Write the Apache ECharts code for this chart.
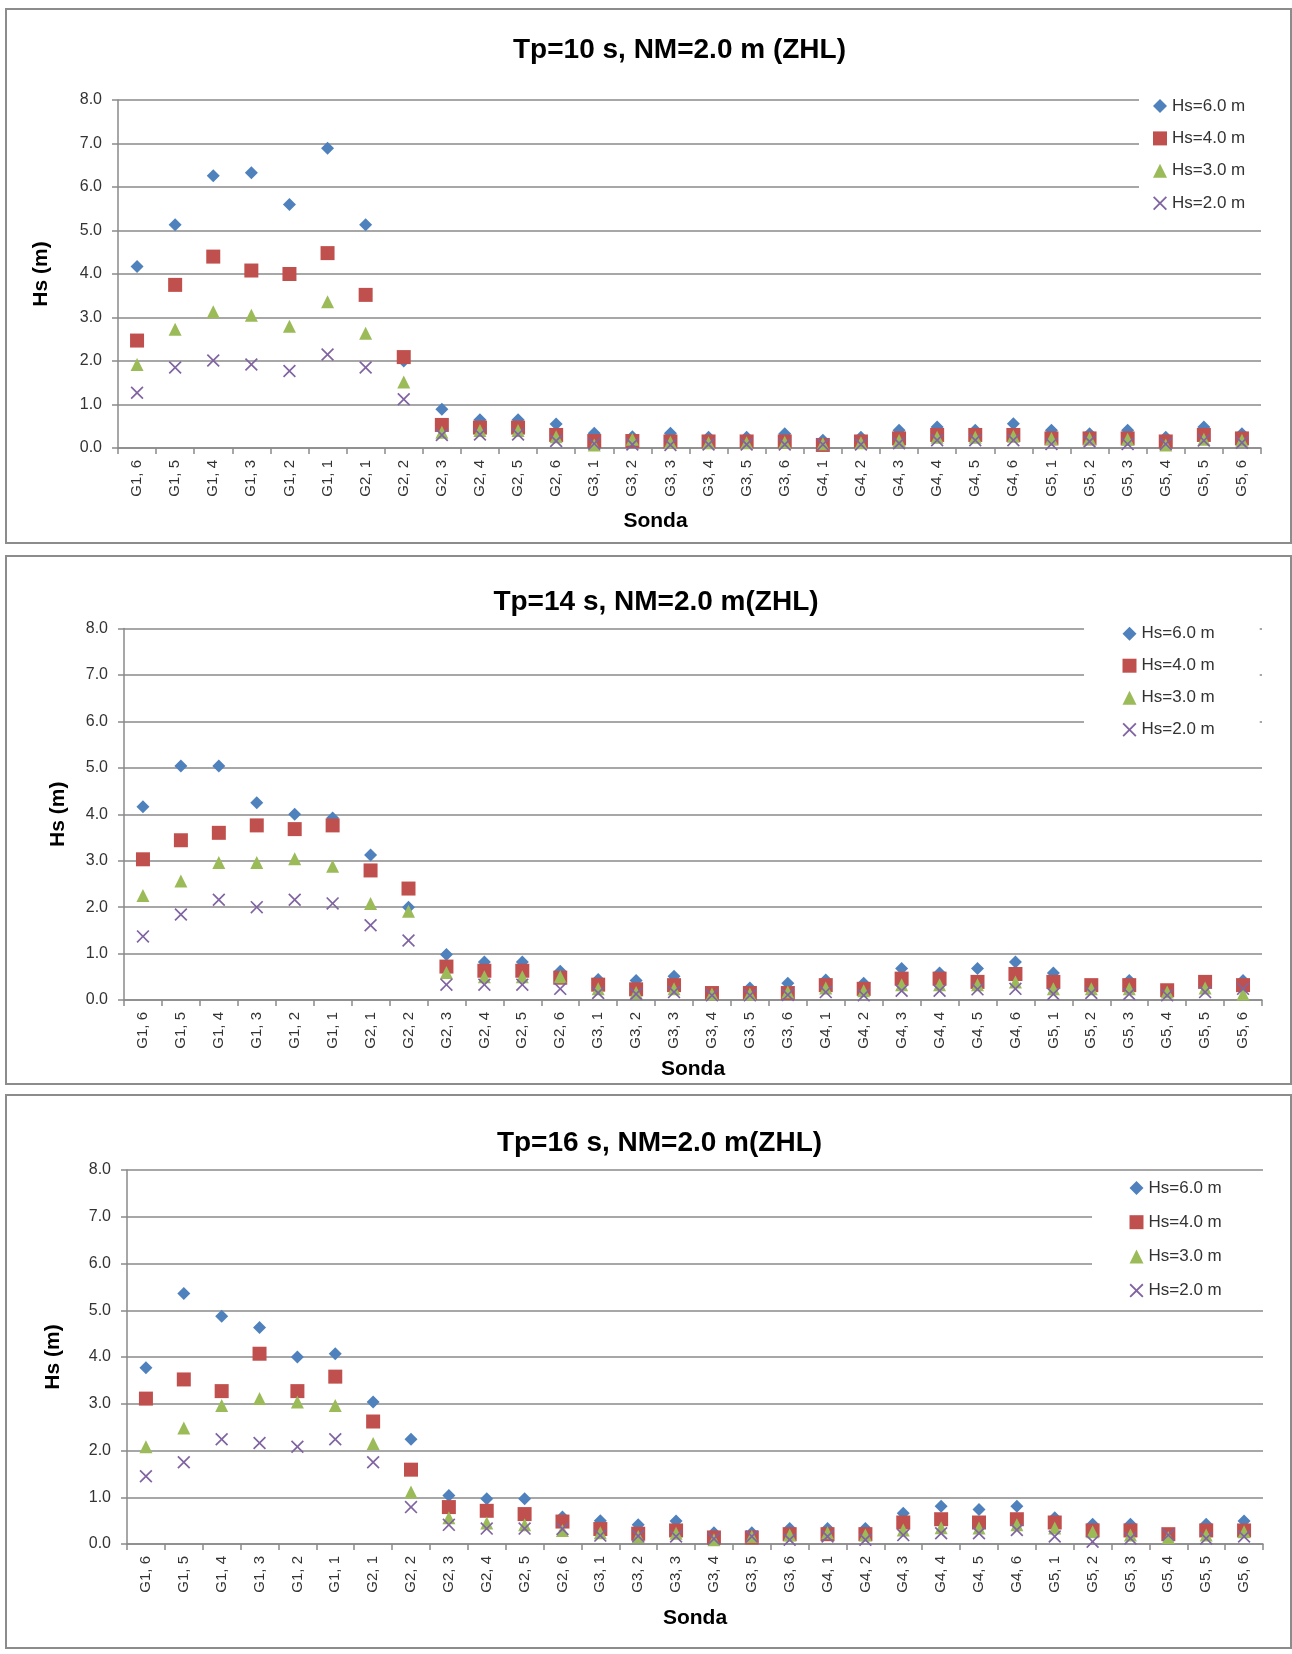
<!DOCTYPE html>
<html>
<head>
<meta charset="utf-8">
<script src="https://cdn.jsdelivr.net/npm/echarts@6/dist/echarts.min.js"></script>
<style>
  html,body{margin:0;padding:0;background:#fff;}
  #chart{width:1292px;height:1654px;}
</style>
</head>
<body>
<div id="chart"></div>
<script>
/* ---------- data ---------- */
const sondas = ['G1, 6','G1, 5','G1, 4','G1, 3','G1, 2','G1, 1','G2, 1','G2, 2','G2, 3','G2, 4',
                'G2, 5','G2, 6','G3, 1','G3, 2','G3, 3','G3, 4','G3, 5','G3, 6','G4, 1','G4, 2',
                'G4, 3','G4, 4','G4, 5','G4, 6','G5, 1','G5, 2','G5, 3','G5, 4','G5, 5','G5, 6'];
const seriesNames = ['Hs=6.0 m','Hs=4.0 m','Hs=3.0 m','Hs=2.0 m'];
const titles = ['Tp=10 s, NM=2.0 m (ZHL)','Tp=14 s, NM=2.0 m(ZHL)','Tp=16 s, NM=2.0 m(ZHL)'];
const yMax = 8, yStep = 1;

// Tp = 10 s
const tp10Hs6 = [4.17,5.13,6.26,6.33,5.60,6.89,5.13,2.00,0.89,0.65,0.65,0.55,0.34,0.26,0.34,0.25,0.25,0.33,0.18,0.25,0.41,0.48,0.41,0.56,0.41,0.33,0.41,0.25,0.48,0.33];
const tp10Hs4 = [2.47,3.75,4.40,4.08,4.00,4.48,3.52,2.09,0.53,0.47,0.47,0.30,0.16,0.16,0.15,0.15,0.15,0.15,0.07,0.15,0.22,0.30,0.30,0.30,0.22,0.22,0.22,0.15,0.30,0.22];
const tp10Hs3 = [1.92,2.73,3.13,3.05,2.80,3.36,2.64,1.52,0.36,0.40,0.40,0.26,0.07,0.20,0.13,0.12,0.12,0.13,0.10,0.12,0.17,0.25,0.25,0.27,0.22,0.22,0.20,0.07,0.20,0.18];
const tp10Hs2 = [1.27,1.85,2.01,1.92,1.77,2.15,1.85,1.12,0.30,0.31,0.31,0.16,0.10,0.08,0.07,0.08,0.08,0.08,0.08,0.08,0.11,0.18,0.18,0.18,0.09,0.15,0.09,0.09,0.17,0.12];

// Tp = 14 s
const tp14Hs6 = [4.16,5.04,5.04,4.25,4.00,3.92,3.12,2.00,0.98,0.82,0.82,0.62,0.44,0.42,0.51,0.15,0.26,0.36,0.43,0.36,0.68,0.58,0.68,0.82,0.58,0.30,0.42,0.20,0.38,0.42];
const tp14Hs4 = [3.03,3.44,3.60,3.76,3.68,3.76,2.79,2.40,0.72,0.63,0.63,0.48,0.33,0.23,0.32,0.15,0.15,0.15,0.32,0.24,0.46,0.46,0.39,0.56,0.39,0.32,0.32,0.21,0.39,0.32];
const tp14Hs3 = [2.25,2.56,2.96,2.96,3.04,2.88,2.08,1.91,0.59,0.50,0.50,0.50,0.24,0.16,0.24,0.13,0.13,0.17,0.26,0.20,0.33,0.33,0.33,0.39,0.24,0.24,0.24,0.17,0.26,0.13];
const tp14Hs2 = [1.37,1.84,2.16,2.00,2.16,2.08,1.61,1.28,0.33,0.33,0.33,0.24,0.15,0.13,0.17,0.10,0.10,0.11,0.17,0.10,0.20,0.20,0.23,0.24,0.13,0.15,0.13,0.10,0.17,0.24];

// Tp = 16 s
const tp16Hs6 = [3.77,5.36,4.87,4.63,4.00,4.07,3.04,2.24,1.04,0.97,0.97,0.58,0.50,0.41,0.49,0.24,0.24,0.33,0.33,0.33,0.66,0.81,0.74,0.81,0.56,0.42,0.42,0.20,0.42,0.49];
const tp16Hs4 = [3.11,3.52,3.27,4.07,3.27,3.58,2.62,1.59,0.79,0.71,0.64,0.48,0.32,0.22,0.29,0.14,0.14,0.21,0.21,0.21,0.46,0.53,0.46,0.53,0.46,0.29,0.29,0.21,0.29,0.29];
const tp16Hs3 = [2.08,2.48,2.96,3.11,3.04,2.96,2.15,1.11,0.56,0.45,0.41,0.29,0.24,0.16,0.23,0.09,0.16,0.19,0.24,0.19,0.30,0.35,0.34,0.41,0.34,0.26,0.19,0.14,0.19,0.26];
const tp16Hs2 = [1.45,1.75,2.24,2.16,2.08,2.24,1.75,0.79,0.41,0.33,0.33,0.32,0.18,0.17,0.16,0.11,0.16,0.09,0.16,0.09,0.19,0.23,0.23,0.30,0.16,0.05,0.12,0.19,0.12,0.16];

/* ---------- styles / layout ---------- */
const X_PATH = 'path://M1.1,0L6,4.9L10.9,0L12,1.1L7.1,6L12,10.9L10.9,12L6,7.1L1.1,12L0,10.9L4.9,6L0,1.1Z';
const markers = [
  {symbol:'diamond',  size:13, color:'#4F81BD'},
  {symbol:'rect',     size:14, color:'#C0504D'},
  {symbol:'triangle', size:13, color:'#9BBB59'},
  {symbol:X_PATH,     size:13, color:'#8064A2'}
];
const FONT = '"Liberation Sans", Arial, sans-serif';
const GRID_COLOR = '#8a8a8a';

const panels = [
  {data:[tp10Hs6,tp10Hs4,tp10Hs3,tp10Hs2], box:[6,9,1285,534],
   grid:{left:118, top:100, width:1143, height:348}, titleXY:[679.5,50],
   legend:{left:1139, top:88, padding:[8,25,6,14], gap:12.4},
   yNameGap:66, xNameGap:63, xNameShift:68},
  {data:[tp14Hs6,tp14Hs4,tp14Hs3,tp14Hs2], box:[6,556,1285,528],
   grid:{left:124, top:628.5, width:1138, height:371.5}, titleXY:[656,602],
   legend:{left:1084, top:618, padding:[5.7,45,6,38.5], gap:12},
   yNameGap:55, xNameGap:59, xNameShift:0},
  {data:[tp16Hs6,tp16Hs4,tp16Hs3,tp16Hs2], box:[6,1095,1285,553],
   grid:{left:127, top:1170, width:1136, height:374}, titleXY:[659.5,1143],
   legend:{left:1092, top:1174, padding:[4,50,5,37.5], gap:14.2},
   yNameGap:63, xNameGap:64, xNameShift:0}
];

/* ---------- build option ---------- */
const option = {
  animation:false,
  textStyle:{fontFamily:FONT},
  title:[], legend:[], grid:[], xAxis:[], yAxis:[], series:[],
  graphic:[]
};

panels.forEach((p,i)=>{
  option.graphic.push({
    type:'rect', silent:true, z:-1,
    shape:{x:p.box[0], y:p.box[1], width:p.box[2], height:p.box[3]},
    style:{fill:'none', stroke:'#8c8c8c', lineWidth:2}
  });
  option.title.push({
    text:titles[i], left:p.titleXY[0], top:p.titleXY[1], padding:0,
    textAlign:'center', textVerticalAlign:'middle',
    textStyle:{fontFamily:FONT, fontSize:28, fontWeight:'bold', color:'#000'}
  });
  option.legend.push({
    data:seriesNames, orient:'vertical', left:p.legend.left, top:p.legend.top,
    padding:p.legend.padding, itemGap:p.legend.gap, itemWidth:14, itemHeight:14,
    backgroundColor:'#fff', selectedMode:false,
    textStyle:{fontFamily:FONT, fontSize:17, color:'#333', lineHeight:20}
  });
  option.grid.push(Object.assign({containLabel:false}, p.grid));
  option.xAxis.push({
    type:'category', gridIndex:i, data:sondas, boundaryGap:true,
    name:'Sonda', nameLocation:'middle', nameGap:p.xNameGap,
    nameTextStyle:{fontFamily:FONT, fontSize:21, fontWeight:'bold', color:'#000',
                   padding:[0,p.xNameShift,0,0]},
    axisLine:{lineStyle:{color:GRID_COLOR, width:1.5}},
    axisTick:{show:true, length:6, alignWithLabel:false, lineStyle:{color:GRID_COLOR, width:1.5}},
    axisLabel:{interval:0, rotate:90, margin:12, fontSize:15, color:'#333', fontFamily:FONT},
    splitLine:{show:false}
  });
  option.yAxis.push({
    type:'value', gridIndex:i, min:0, max:yMax, interval:yStep,
    name:'Hs (m)', nameLocation:'middle', nameGap:p.yNameGap, nameRotate:90,
    nameTextStyle:{fontFamily:FONT, fontSize:21, fontWeight:'bold', color:'#000'},
    axisLine:{show:true, lineStyle:{color:GRID_COLOR, width:1.5}},
    axisTick:{show:true, length:6, lineStyle:{color:GRID_COLOR, width:1.5}},
    axisLabel:{margin:16, fontSize:16, color:'#333', fontFamily:FONT, formatter:v=>v.toFixed(1)},
    splitLine:{show:true, lineStyle:{color:GRID_COLOR, width:1.5}}
  });
  p.data.forEach((vals,k)=>{
    const m = markers[k];
    option.series.push({
      type:'scatter', name:seriesNames[k], xAxisIndex:i, yAxisIndex:i,
      data:vals, symbol:m.symbol, symbolSize:m.size,
      itemStyle:{color:m.color, opacity:1},
      emphasis:{disabled:true}
    });
  });
});

const chart = echarts.init(document.getElementById('chart'), null, {renderer:'canvas'});
chart.setOption(option);
</script>
</body>
</html>
